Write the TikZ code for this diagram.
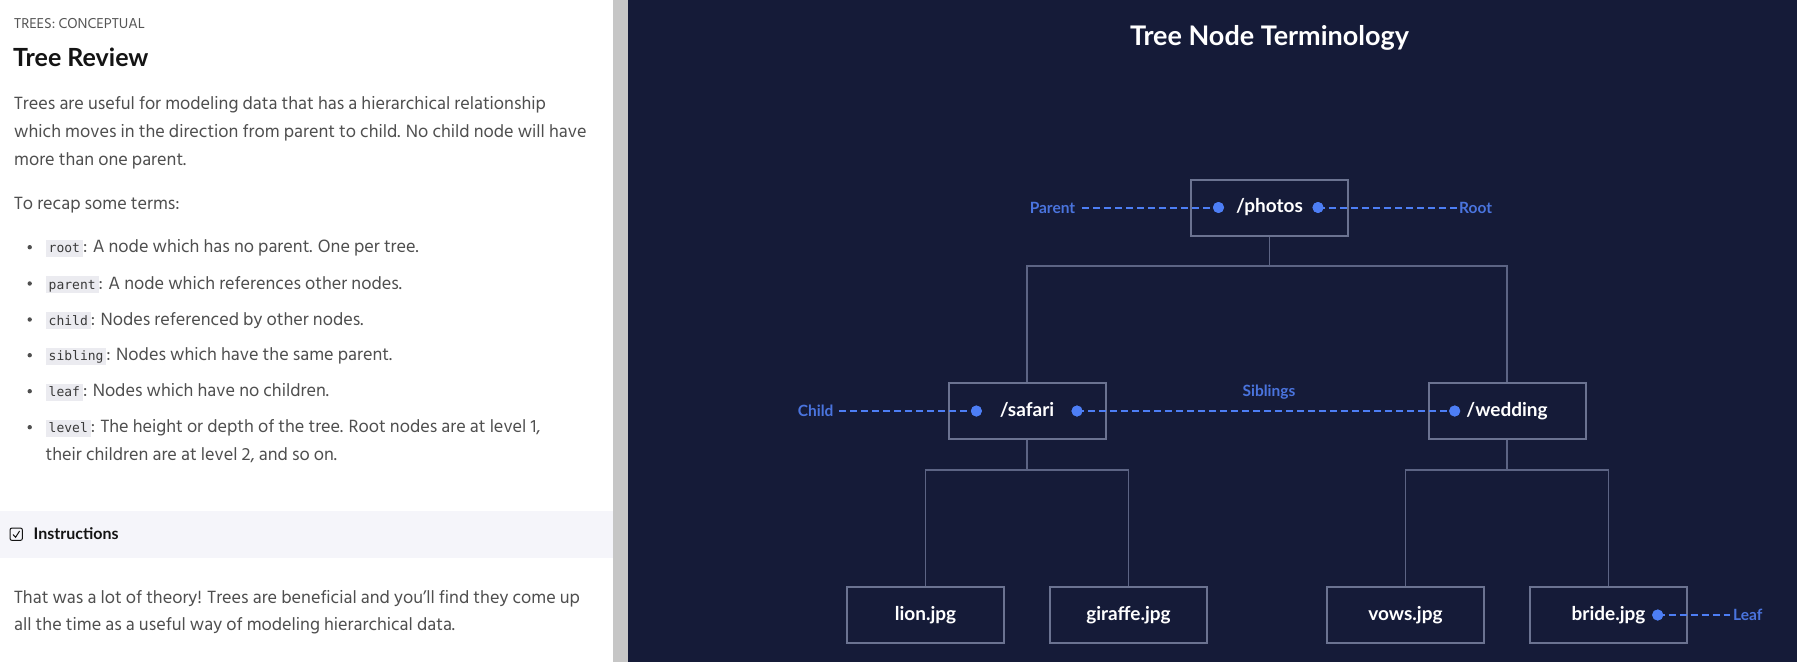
\documentclass[tikz,border=0pt]{standalone}
\usepackage{fontspec}
\setmainfont{Hind Siliguri}
\newfontfamily\latofont{Lato}
\newfontfamily\monofont{DejaVu Sans Mono}
\usetikzlibrary{calc}
\definecolor{navy}{HTML}{151B38}
\definecolor{boxline}{HTML}{6B7391}
\definecolor{connc}{HTML}{5C6484}
\definecolor{dotblue}{HTML}{4D7EF5}
\definecolor{lblblue}{HTML}{4A74DE}
\definecolor{bodygray}{HTML}{4F4F4F}
\definecolor{headc}{HTML}{141414}
\definecolor{smallc}{HTML}{555555}
\definecolor{codebg}{HTML}{EBEBF0}
\definecolor{codetxt}{HTML}{3A3A3A}
\definecolor{bandbg}{HTML}{F5F5FA}
\definecolor{scrollc}{HTML}{C6C6C6}
\newcommand{\cbx}[1]{{\setlength{\fboxsep}{0pt}\colorbox{codebg}{\hspace{3pt}\rule[-4pt]{0pt}{17pt}{\monofont\fontsize{13}{13}\selectfont\color{codetxt}#1}\hspace{3pt}}}}
\tikzset{
  tnode/.style={draw=boxline, line width=2pt, fill=navy, minimum width=157pt, minimum height=56pt, inner sep=0pt, text=white, text height=14pt, text depth=4pt, font=\latofont\bfseries\fontsize{19}{19}\selectfont},
  conn/.style={draw=connc, line width=1.5pt},
  dashline/.style={draw=dotblue, line width=2pt, dash pattern=on 7pt off 4pt},
  blob/.style={circle, fill=dotblue, minimum size=11pt, inner sep=0pt},
  lbl/.style={text=lblblue, inner sep=0pt, font=\latofont\bfseries\fontsize{15.5}{15.5}\selectfont},
  bodytxt/.style={anchor=base west, inner sep=0pt, text=bodygray, font=\fontsize{18.2}{18.2}\selectfont},
  bul/.style={circle, fill=bodygray, minimum size=4.4pt, inner sep=0pt},
}
\begin{document}
\begin{tikzpicture}[x=1pt,y=-1pt]
\useasboundingbox (0,0) rectangle (1797,662);
% panels
\fill[white] (0,0) rectangle (613,662);
\fill[scrollc] (613,0) rectangle (628,662);
\fill[navy] (628,0) rectangle (1797,662);
\fill[bandbg] (0,511) rectangle (613,558);

% left text
\node[anchor=base west, inner sep=0pt, text=smallc, font=\fontsize{14.7}{14.7}\selectfont] (kick) at (14,28.3) {TREES: CONCEPTUAL};
\node[anchor=base west, inner sep=0pt, text=headc, font=\latofont\bfseries\fontsize{25}{25}\selectfont] (head) at (13,66.7) {Tree Review};
\node[bodytxt] (p1) at (14,109) {Trees are useful for modeling data that has a hierarchical relationship};
\node[bodytxt] (p2) at (14,137) {which moves in the direction from parent to child. No child node will have};
\node[bodytxt] (p3) at (14,165) {more than one parent.};
\node[bodytxt] (p4) at (14,209) {To recap some terms:};
\node[bodytxt] (b1) at (45.5,252.7) {\cbx{root}: A node which has no parent. One per tree.};
\node[bodytxt] (b2) at (45.5,289) {\cbx{parent}: A node which references other nodes.};
\node[bodytxt] (b3) at (45.5,325) {\cbx{child}: Nodes referenced by other nodes.};
\node[bodytxt] (b4) at (45.5,360.7) {\cbx{sibling}: Nodes which have the same parent.};
\node[bodytxt] (b5) at (45.5,396.7) {\cbx{leaf}: Nodes which have no children.};
\node[bodytxt] (b6) at (45.5,432.7) {\cbx{level}: The height or depth of the tree. Root nodes are at level 1,};
\node[bodytxt] (b7) at (45.5,460) {their children are at level 2, and so on.};
\foreach \yy/\nm in {252.7/d1,289/d2,325/d3,360.7/d4,396.7/d5,432.7/d6}
  \node[bul] (\nm) at (29.7,\yy-5.5) {};
% instructions
\draw[draw=headc, line width=1pt, rounded corners=2pt] (10,528) rectangle (22.4,540.4);
\draw[draw=headc, line width=1pt] (13,534.5) -- (15.6,537.3) -- (19.6,531);
\node[anchor=base west, inner sep=0pt, text=headc, font=\latofont\bfseries\fontsize{16}{16}\selectfont] (instr) at (33.5,539.5) {Instructions};
\node[bodytxt] (f1) at (14,603) {That was a lot of theory! Trees are beneficial and you’ll find they come up};
\node[bodytxt] (f2) at (14,630) {all the time as a useful way of modeling hierarchical data.};

% right side
\node[anchor=base, inner sep=0pt, text=white, font=\latofont\bfseries\fontsize{27}{27}\selectfont] (title) at (1269.5,45) {Tree Node Terminology};

\coordinate (j1) at (1269.5,266);
\coordinate (j2) at (1027,470);
\coordinate (j3) at (1507,470);
\draw[conn] (1269.5,235) -- (j1);
\draw[conn] (j1) -| (1027,383);
\draw[conn] (j1) -| (1507,383);
\draw[conn] (1027,439) -- (j2);
\draw[conn] (j2) -| (925.5,587);
\draw[conn] (j2) -| (1128.5,587);
\draw[conn] (1507,439) -- (j3);
\draw[conn] (j3) -| (1405.5,587);
\draw[conn] (j3) -| (1608.5,587);

\node[tnode] (photos) at (1269.5,207.5) {/photos};
\node[tnode] (safari) at (1027,411) {/safari};
\node[tnode] (wedding) at (1507,411) {/wedding};
\node[tnode] (lion) at (925.5,615) {lion.jpg};
\node[tnode] (giraffe) at (1128.5,615) {giraffe.jpg};
\node[tnode] (vows) at (1405.5,615) {vows.jpg};
\node[tnode] (bride) at (1608.5,615) {bride.jpg};

% dots
\node[blob] (pdl) at ([xshift=-51pt]photos.center) {};
\node[blob] (pdr) at ([xshift=48.5pt]photos.center) {};
\node[blob] (sdl) at ([xshift=-50.6pt]safari.center) {};
\node[blob] (sdr) at ([xshift=50pt]safari.center) {};
\node[blob] (wdl) at ([xshift=-52.3pt]wedding.center) {};
\node[blob] (bdr) at ([xshift=49.2pt]bride.center) {};

% labels
\node[lbl, anchor=east] (parentl) at (1075.4,207.5) {Parent};
\node[lbl, anchor=west] (rootl) at (1459,207.5) {Root};
\node[lbl, anchor=east] (childl) at (833.6,411) {Child};
\node[lbl] (sibl) at (1269,391.7) {Siblings};
\node[lbl, anchor=west] (leafl) at (1733,615) {Leaf};

% dashed leaders
\draw[dashline] ([xshift=6.5pt]parentl.east) -- (pdl.center);
\draw[dashline] (pdr.center) -- ([xshift=-2pt]rootl.west);
\draw[dashline] ([xshift=5.5pt]childl.east) -- (sdl.center);
\draw[dashline] (sdr.center) -- (wdl.center);
\draw[dashline] (bdr.center) -- ([xshift=-3pt]leafl.west);
\foreach \nm in {pdl,pdr,sdl,sdr,wdl,bdr}
  \fill[dotblue] (\nm) circle (5.5pt);
\end{tikzpicture}
\end{document}
